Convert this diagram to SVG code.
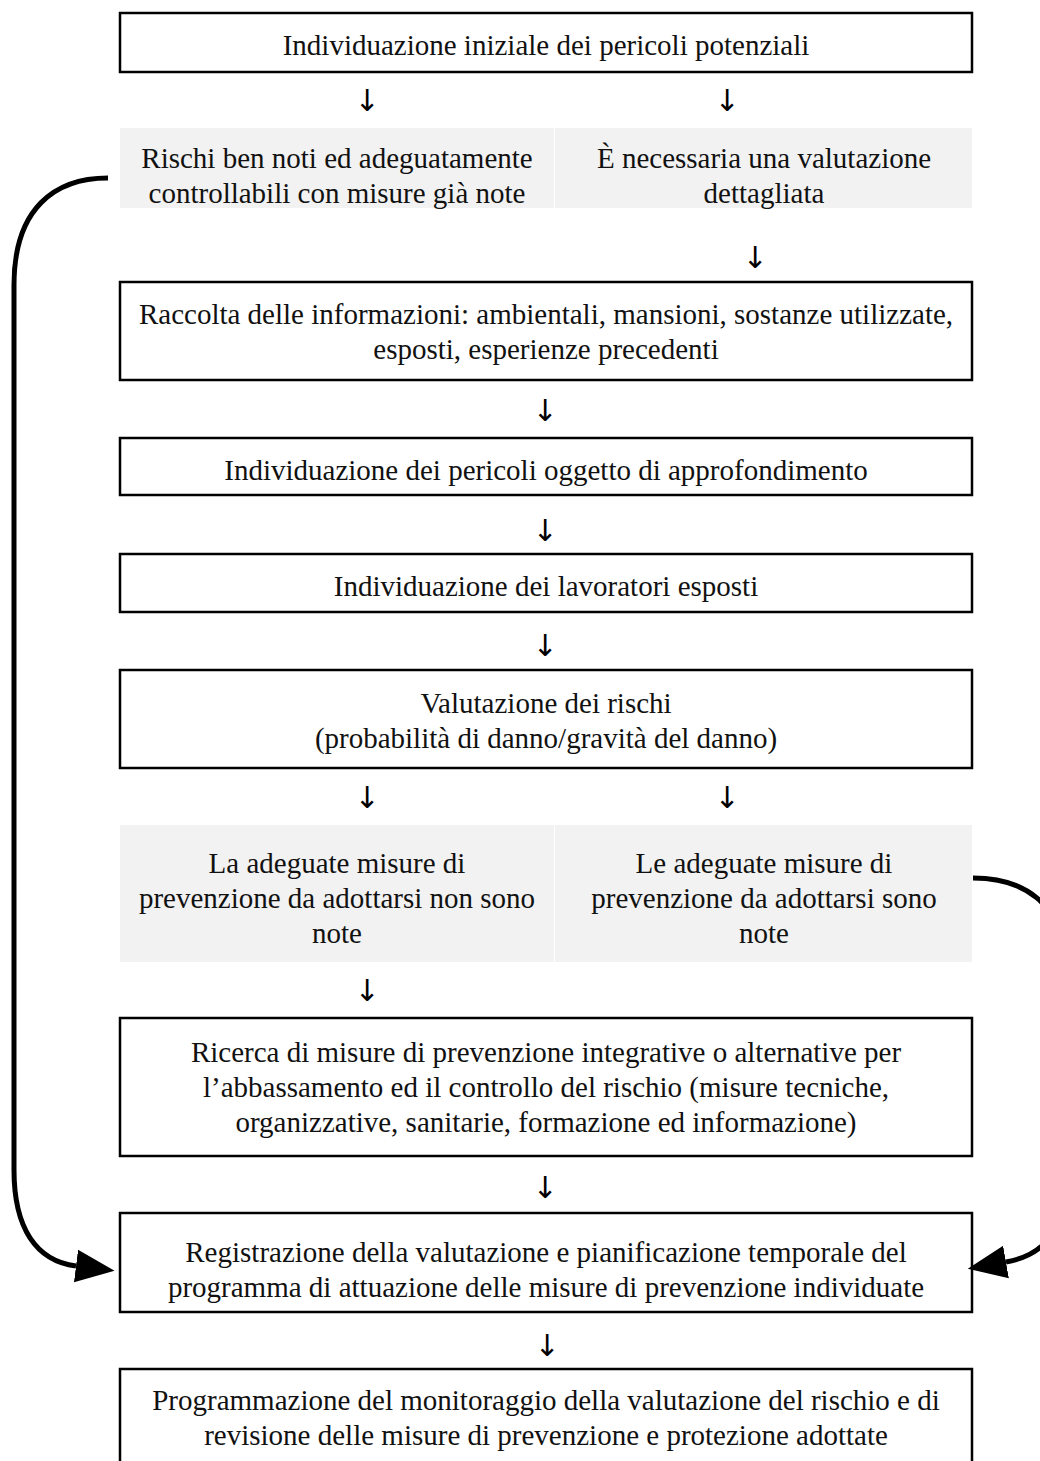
<svg xmlns="http://www.w3.org/2000/svg" width="1040" height="1461" viewBox="0 0 1040 1461">
<style>
.box{fill:#ffffff;stroke:#000000;stroke-width:2.5}
.panel{fill:#f2f2f2;stroke:none}
.t{font-family:"Liberation Serif","Times New Roman",serif;font-size:29px;fill:#111111;text-anchor:middle}
.ar{font-family:"DejaVu Sans","Liberation Sans",sans-serif;font-size:30px;fill:#000000;text-anchor:middle}
.conn{fill:none;stroke:#000000;stroke-width:5}
</style>
<defs>
<marker id="head" markerUnits="userSpaceOnUse" markerWidth="40" markerHeight="40" refX="0" refY="14" orient="auto" viewBox="0 0 34 28">
<path d="M0,0 L33,14 L0,28 Z" fill="#000000"/>
</marker>
</defs>
<rect width="1040" height="1461" fill="#ffffff"/>

<g id="n1"><rect class="box" x="120" y="13" width="852" height="59"/><text class="t" x="546" y="55">Individuazione iniziale dei pericoli potenziali</text></g>
<g id="a1"><text class="ar" x="367" y="111">↓</text><text class="ar" x="727" y="111">↓</text></g>

<g id="n2a"><rect class="panel" x="120" y="128" width="434" height="80"/><text class="t" x="337" y="168">Rischi ben noti ed adeguatamente</text><text class="t" x="337" y="203">controllabili con misure già note</text></g>
<g id="n2b"><rect class="panel" x="555" y="128" width="417" height="80"/><text class="t" x="764" y="168">È necessaria una valutazione</text><text class="t" x="764" y="203">dettagliata</text></g>
<g id="a2"><text class="ar" x="755" y="268">↓</text></g>

<g id="n3"><rect class="box" x="120" y="282" width="852" height="98"/><text class="t" x="546" y="324">Raccolta delle informazioni: ambientali, mansioni, sostanze utilizzate,</text><text class="t" x="546" y="359">esposti, esperienze precedenti</text></g>
<g id="a3"><text class="ar" x="545" y="421">↓</text></g>

<g id="n4"><rect class="box" x="120" y="438" width="852" height="57"/><text class="t" x="546" y="480">Individuazione dei pericoli oggetto di approfondimento</text></g>
<g id="a4"><text class="ar" x="545" y="541">↓</text></g>

<g id="n5"><rect class="box" x="120" y="554" width="852" height="58"/><text class="t" x="546" y="596">Individuazione dei lavoratori esposti</text></g>
<g id="a5"><text class="ar" x="545" y="656">↓</text></g>

<g id="n6"><rect class="box" x="120" y="670" width="852" height="98"/><text class="t" x="546" y="713">Valutazione dei rischi</text><text class="t" x="546" y="748">(probabilità di danno/gravità del danno)</text></g>
<g id="a6"><text class="ar" x="367" y="808">↓</text><text class="ar" x="727" y="808">↓</text></g>

<g id="n7a"><rect class="panel" x="120" y="825" width="434" height="137"/><text class="t" x="337" y="873">La adeguate misure di</text><text class="t" x="337" y="908">prevenzione da adottarsi non sono</text><text class="t" x="337" y="943">note</text></g>
<g id="n7b"><rect class="panel" x="555" y="825" width="417" height="137"/><text class="t" x="764" y="873">Le adeguate misure di</text><text class="t" x="764" y="908">prevenzione da adottarsi sono</text><text class="t" x="764" y="943">note</text></g>
<g id="a7"><text class="ar" x="367" y="1001">↓</text></g>

<g id="n8"><rect class="box" x="120" y="1018" width="852" height="138"/><text class="t" x="546" y="1062">Ricerca di misure di prevenzione integrative o alternative per</text><text class="t" x="546" y="1097">l’abbassamento ed il controllo del rischio (misure tecniche,</text><text class="t" x="546" y="1132">organizzative, sanitarie, formazione ed informazione)</text></g>
<g id="a8"><text class="ar" x="545" y="1198">↓</text></g>

<g id="n9"><rect class="box" x="120" y="1213" width="852" height="99"/><text class="t" x="546" y="1262">Registrazione della valutazione e pianificazione temporale del</text><text class="t" x="546" y="1297">programma di attuazione delle misure di prevenzione individuate</text></g>
<g id="a9"><text class="ar" x="547" y="1356">↓</text></g>

<g id="n10"><rect class="box" x="120" y="1369" width="852" height="110"/><text class="t" x="546" y="1410">Programmazione del monitoraggio della valutazione del rischio e di</text><text class="t" x="546" y="1445">revisione delle misure di prevenzione e protezione adottate</text></g>

<g id="connectors">
<path class="conn" d="M108,178 C55,178 14,208 14,285 L14,1170 C14,1228 36,1261 76,1266" marker-end="url(#head)"/>
<path class="conn" d="M973,878 C1022,878 1064,902 1064,965 L1064,1180 C1064,1236 1040,1256 1006,1262" marker-end="url(#head)"/>
</g>
</svg>
